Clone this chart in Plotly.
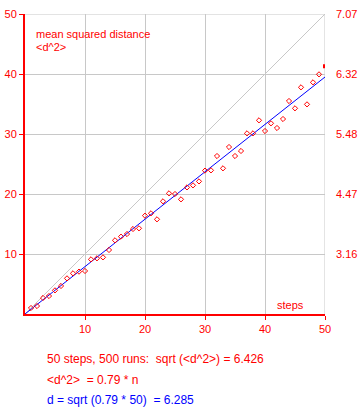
import math
import plotly.graph_objects as go

steps = list(range(1, 51))
msd = [1.0, 1.33, 2.67, 3.0, 3.94, 4.67, 5.94, 6.78, 7.06, 7.17,
       9.11, 9.28, 9.44, 10.67, 12.28, 12.89, 13.33, 14.17, 14.28, 16.39,
       16.78, 15.78, 18.78, 20.11, 20.0, 19.11, 21.1, 21.44, 22.1, 23.9,
       23.94, 26.33, 24.28, 27.83, 26.33, 27.17, 30.11, 30.11, 32.28, 30.5,
       31.78, 31.0, 32.5, 35.5, 34.28, 37.78, 34.94, 38.61, 39.94, 41.29]
slope = 0.79
n_steps = 50
n_runs = 500
tick_vals = [10, 20, 30, 40, 50]
right_labels = [f"{math.sqrt(v):.2f}" for v in tick_vals]
axis_max = 50

RED = "#ff0000"
BLUE = "#0000ff"
GRID = "#c8c8c8"
FONT = "Liberation Sans"

fig = go.Figure()
fig.add_trace(go.Scatter(x=[0, n_steps], y=[0, n_steps], mode="lines",
                         line=dict(color=GRID, width=1), hoverinfo="skip"))
fig.add_trace(go.Scatter(x=[0, n_steps], y=[0, slope * n_steps], mode="lines",
                         line=dict(color=BLUE, width=1)))
fig.add_trace(go.Scatter(x=steps[:-1], y=msd[:-1], mode="markers",
                         marker=dict(symbol="diamond-open", size=4, color=RED,
                                     line=dict(width=1, color=RED))))
fig.add_trace(go.Scatter(x=steps[-1:], y=msd[-1:], mode="markers",
                         marker=dict(symbol="square", size=4, color=RED,
                                     line=dict(width=0))))
fig.add_trace(go.Scatter(x=[0], y=[0], yaxis="y2", mode="markers",
                         marker=dict(opacity=0), hoverinfo="skip"))

# grid lines on the far edges of the plot (top and right)
fig.add_shape(type="line", xref="x", yref="y", x0=0, x1=axis_max, y0=axis_max, y1=axis_max,
              line=dict(color=GRID, width=1), layer="below")
fig.add_shape(type="line", xref="x", yref="y", x0=axis_max, x1=axis_max, y0=0, y1=axis_max,
              line=dict(color=GRID, width=1), layer="below")

fig.add_annotation(x=1.5, y=46.6, xref="x", yref="y", text="mean squared distance",
                   showarrow=False, xanchor="left", font=dict(color=RED, size=11, family=FONT))
fig.add_annotation(x=1.5, y=44.5, xref="x", yref="y", text="&lt;d^2&gt;",
                   showarrow=False, xanchor="left", font=dict(color=RED, size=11, family=FONT))
fig.add_annotation(x=41.6, y=1.5, xref="x", yref="y", text="steps",
                   showarrow=False, xanchor="left", font=dict(color=RED, size=11, family=FONT))

fig.add_annotation(x=0.066, y=-0.15, xref="paper", yref="paper", yanchor="middle",
                   text=f"{n_steps} steps, {n_runs} runs:  sqrt (&lt;d^2&gt;) = {math.sqrt(msd[-1]):.3f}",
                   showarrow=False, xanchor="left", font=dict(color=RED, size=12, family=FONT))
fig.add_annotation(x=0.066, y=-0.22, xref="paper", yref="paper", yanchor="middle",
                   text=f"&lt;d^2&gt;  = {slope} * n",
                   showarrow=False, xanchor="left", font=dict(color=RED, size=12, family=FONT))
fig.add_annotation(x=0.066, y=-0.287, xref="paper", yref="paper", yanchor="middle",
                   text=f"d = sqrt ({slope} * {n_steps})  = {math.sqrt(slope * n_steps):.3f}",
                   showarrow=False, xanchor="left", font=dict(color=BLUE, size=12, family=FONT))

axis_common = dict(range=[0, axis_max], tickvals=tick_vals, showgrid=True, gridcolor=GRID, gridwidth=1,
                   zeroline=False, showline=True, linecolor=RED, linewidth=2,
                   ticks="outside", ticklen=4, tickcolor=RED, tickwidth=1, automargin=False,
                   tickfont=dict(color=RED, size=11, family=FONT))

fig.update_layout(
    width=362, height=412,
    margin=dict(l=25, r=37, t=14, b=98, autoexpand=False),
    paper_bgcolor="white", plot_bgcolor="white",
    showlegend=False,
    font=dict(family=FONT, color=RED, size=11),
    xaxis=axis_common,
    yaxis=axis_common,
    yaxis2=dict(range=[0, axis_max], overlaying="y", side="right", tickvals=tick_vals,
                ticktext=right_labels, showgrid=False, zeroline=False, showline=False,
                ticks="", ticklabelstandoff=10, automargin=False,
                tickfont=dict(color=RED, size=11, family=FONT)),
)

fig.write_html("out.html")
